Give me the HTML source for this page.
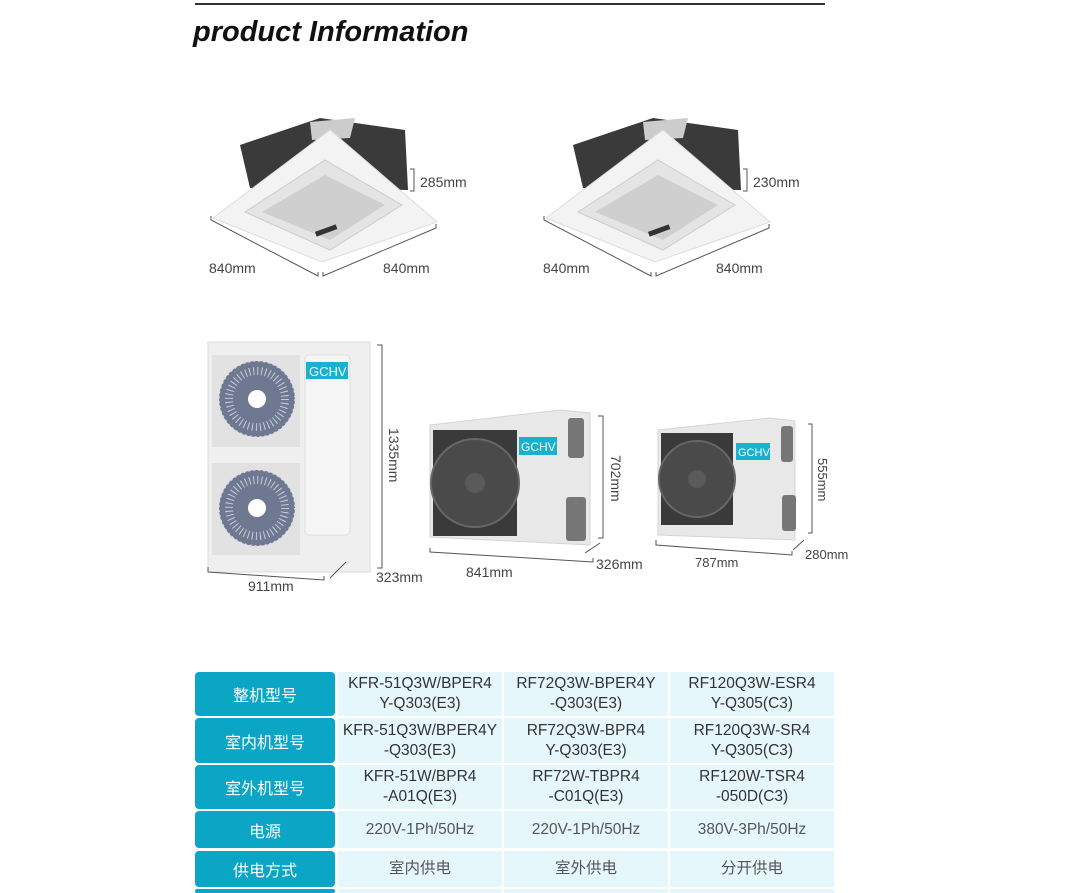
<!DOCTYPE html>
<html><head><meta charset="utf-8"><style>
body{margin:0;background:#fff;width:1083px;height:890px;overflow:hidden;position:relative;font-family:"Liberation Sans","Noto Sans CJK SC",sans-serif;}
.a{position:absolute;}
.h{position:absolute;left:195px;width:140px;background:#0ba6c5;border-radius:4px;color:#fff;font-size:16px;display:flex;align-items:center;justify-content:center;}
.c{position:absolute;width:164px;background:#e6f7fb;color:#333;font-size:15.5px;line-height:20px;display:flex;align-items:center;justify-content:center;text-align:center;}
</style></head><body>
<div class="a" style="left:195px;top:3px;width:630px;height:2px;background:#333"></div>
<div class="a" style="left:193px;top:16px;font-size:29px;font-weight:bold;font-style:italic;color:#111">product Information</div>

<svg class="a" style="left:0;top:0" width="1083" height="660">
<defs>
<g id="fan">
<circle r="38" fill="#6e7891"/>
<circle r="38" fill="none" stroke="#d8dbe3" stroke-width="1.5" stroke-dasharray="2 3" />
<circle r="28" fill="none" stroke="#c8ccd6" stroke-width="8" stroke-dasharray="1 3"/>
<circle r="9" fill="#fff"/>
</g>
</defs>
<g id="cas">
<polygon points="240,145 320,118 405,130 408,190 250,188" fill="#3a3a3a"/>
<polygon points="310,122 355,118 350,138 312,140" fill="#ccc"/>
<polygon points="213,218 330,130 437,222 322,262" fill="#f3f3f3" stroke="#ddd"/>
<polygon points="245,212 325,160 402,205 330,250" fill="#e4e4e4" stroke="#ccc"/>
<polygon points="262,212 325,175 385,205 330,240" fill="#cfcfcf"/>
<rect x="315" y="228" width="22" height="5" fill="#333" transform="rotate(-20 326 230)"/>
<polyline points="211,216 211,220 318,276 318,272" fill="none" stroke="#555"/>
<polyline points="323,272 323,276 436,228 436,224" fill="none" stroke="#555"/>
<polyline points="410,169 414,169 414,191 410,191" fill="none" stroke="#555"/>
</g>
<use href="#cas" transform="translate(333,0)"/>
<text x="420" y="187" font-size="14" fill="#444" font-family="Liberation Sans">285mm</text>
<text x="753" y="187" font-size="14" fill="#444" font-family="Liberation Sans">230mm</text>
<text x="209" y="273" font-size="14" fill="#444" font-family="Liberation Sans">840mm</text>
<text x="383" y="273" font-size="14" fill="#444" font-family="Liberation Sans">840mm</text>
<text x="543" y="273" font-size="14" fill="#444" font-family="Liberation Sans">840mm</text>
<text x="716" y="273" font-size="14" fill="#444" font-family="Liberation Sans">840mm</text>

<rect x="208" y="342" width="162" height="230" fill="#efefef" stroke="#ddd"/>
<rect x="212" y="355" width="88" height="92" fill="#e2e2e2"/>
<rect x="212" y="463" width="88" height="92" fill="#e2e2e2"/>
<use href="#fan" transform="translate(257,399)"/>
<use href="#fan" transform="translate(257,508)"/>
<rect x="305" y="355" width="45" height="180" rx="4" fill="#f6f6f6" stroke="#ddd"/>
<rect x="306" y="362" width="42" height="17" fill="#1ab0cf"/>
<text x="309" y="376" font-size="13" fill="#fff" font-family="Liberation Sans">GCHV</text>
<polyline points="377,345 382,345 382,568 377,568" fill="none" stroke="#555"/>
<text transform="translate(389,428) rotate(90)" font-size="14" fill="#444" font-family="Liberation Sans">1335mm</text>
<polyline points="208,567 208,572 324,580 324,576" fill="none" stroke="#555"/>
<line x1="330" y1="578" x2="346" y2="562" stroke="#555"/>
<text x="248" y="591" font-size="14" fill="#444" font-family="Liberation Sans">911mm</text>
<text x="376" y="582" font-size="14" fill="#444" font-family="Liberation Sans">323mm</text>

<polygon points="430,425 560,410 590,413 590,545 430,537" fill="#e8e8e8" stroke="#d5d5d5"/>
<rect x="433" y="430" width="84" height="106" fill="#3a3a3a"/>
<circle cx="475" cy="483" r="44" fill="#4a4a4a" stroke="#666" stroke-width="2"/>
<circle cx="475" cy="483" r="10" fill="#5a5a5a"/>
<rect x="519" y="437" width="38" height="18" fill="#1ab0cf"/>
<text x="521" y="451" font-size="12" fill="#fff" font-family="Liberation Sans">GCHV</text>
<rect x="568" y="418" width="16" height="40" rx="3" fill="#777"/>
<rect x="566" y="497" width="20" height="44" rx="3" fill="#777"/>
<polyline points="598,416 603,416 603,538 598,538" fill="none" stroke="#555"/>
<text transform="translate(611,455) rotate(90)" font-size="14" fill="#444" font-family="Liberation Sans">702mm</text>
<polyline points="430,548 430,552 593,562 593,558" fill="none" stroke="#555"/>
<line x1="585" y1="553" x2="600" y2="543" stroke="#555"/>
<text x="466" y="577" font-size="14" fill="#444" font-family="Liberation Sans">841mm</text>
<text x="596" y="569" font-size="14" fill="#444" font-family="Liberation Sans">326mm</text>

<polygon points="658,430 770,418 795,421 795,540 658,535" fill="#e8e8e8" stroke="#d5d5d5"/>
<rect x="661" y="433" width="72" height="92" fill="#3a3a3a"/>
<circle cx="697" cy="479" r="38" fill="#4a4a4a" stroke="#666" stroke-width="2"/>
<circle cx="697" cy="479" r="9" fill="#5a5a5a"/>
<rect x="736" y="443" width="34" height="17" fill="#1ab0cf"/>
<text x="738" y="456" font-size="11" fill="#fff" font-family="Liberation Sans">GCHV</text>
<rect x="781" y="426" width="12" height="36" rx="3" fill="#777"/>
<rect x="782" y="495" width="14" height="36" rx="3" fill="#777"/>
<polyline points="808,424 812,424 812,533 808,533" fill="none" stroke="#555"/>
<text transform="translate(818,458) rotate(90)" font-size="13" fill="#444" font-family="Liberation Sans">555mm</text>
<polyline points="656,540 656,545 792,555 792,551" fill="none" stroke="#555"/>
<line x1="793" y1="550" x2="804" y2="540" stroke="#555"/>
<text x="695" y="567" font-size="13" fill="#444" font-family="Liberation Sans">787mm</text>
<text x="805" y="559" font-size="13" fill="#444" font-family="Liberation Sans">280mm</text>
</svg>

<div class="h" style="top:672px;height:44px">整机型号</div>
<div class="h" style="top:718px;height:45px">室内机型号</div>
<div class="h" style="top:765px;height:44px">室外机型号</div>
<div class="h" style="top:811px;height:37px">电源</div>
<div class="h" style="top:851px;height:36px">供电方式</div>
<div class="h" style="top:889px;height:4px"></div>

<div class="c" style="left:338px;top:672px;height:44px">KFR-51Q3W/BPER4<br>Y-Q303(E3)</div>
<div class="c" style="left:504px;top:672px;height:44px">RF72Q3W-BPER4Y<br>-Q303(E3)</div>
<div class="c" style="left:670px;top:672px;height:44px">RF120Q3W-ESR4<br>Y-Q305(C3)</div>
<div class="c" style="left:338px;top:718px;height:45px">KFR-51Q3W/BPER4Y<br>-Q303(E3)</div>
<div class="c" style="left:504px;top:718px;height:45px">RF72Q3W-BPR4<br>Y-Q303(E3)</div>
<div class="c" style="left:670px;top:718px;height:45px">RF120Q3W-SR4<br>Y-Q305(C3)</div>
<div class="c" style="left:338px;top:765px;height:44px">KFR-51W/BPR4<br>-A01Q(E3)</div>
<div class="c" style="left:504px;top:765px;height:44px">RF72W-TBPR4<br>-C01Q(E3)</div>
<div class="c" style="left:670px;top:765px;height:44px">RF120W-TSR4<br>-050D(C3)</div>
<div class="c" style="left:338px;top:811px;height:37px;color:#555">220V-1Ph/50Hz</div>
<div class="c" style="left:504px;top:811px;height:37px;color:#555">220V-1Ph/50Hz</div>
<div class="c" style="left:670px;top:811px;height:37px;color:#555">380V-3Ph/50Hz</div>
<div class="c" style="left:338px;top:851px;height:36px;color:#555">室内供电</div>
<div class="c" style="left:504px;top:851px;height:36px;color:#555">室外供电</div>
<div class="c" style="left:670px;top:851px;height:36px;color:#555">分开供电</div>
<div class="c" style="left:338px;top:889px;height:4px"></div>
<div class="c" style="left:504px;top:889px;height:4px"></div>
<div class="c" style="left:670px;top:889px;height:4px"></div>
</body></html>
